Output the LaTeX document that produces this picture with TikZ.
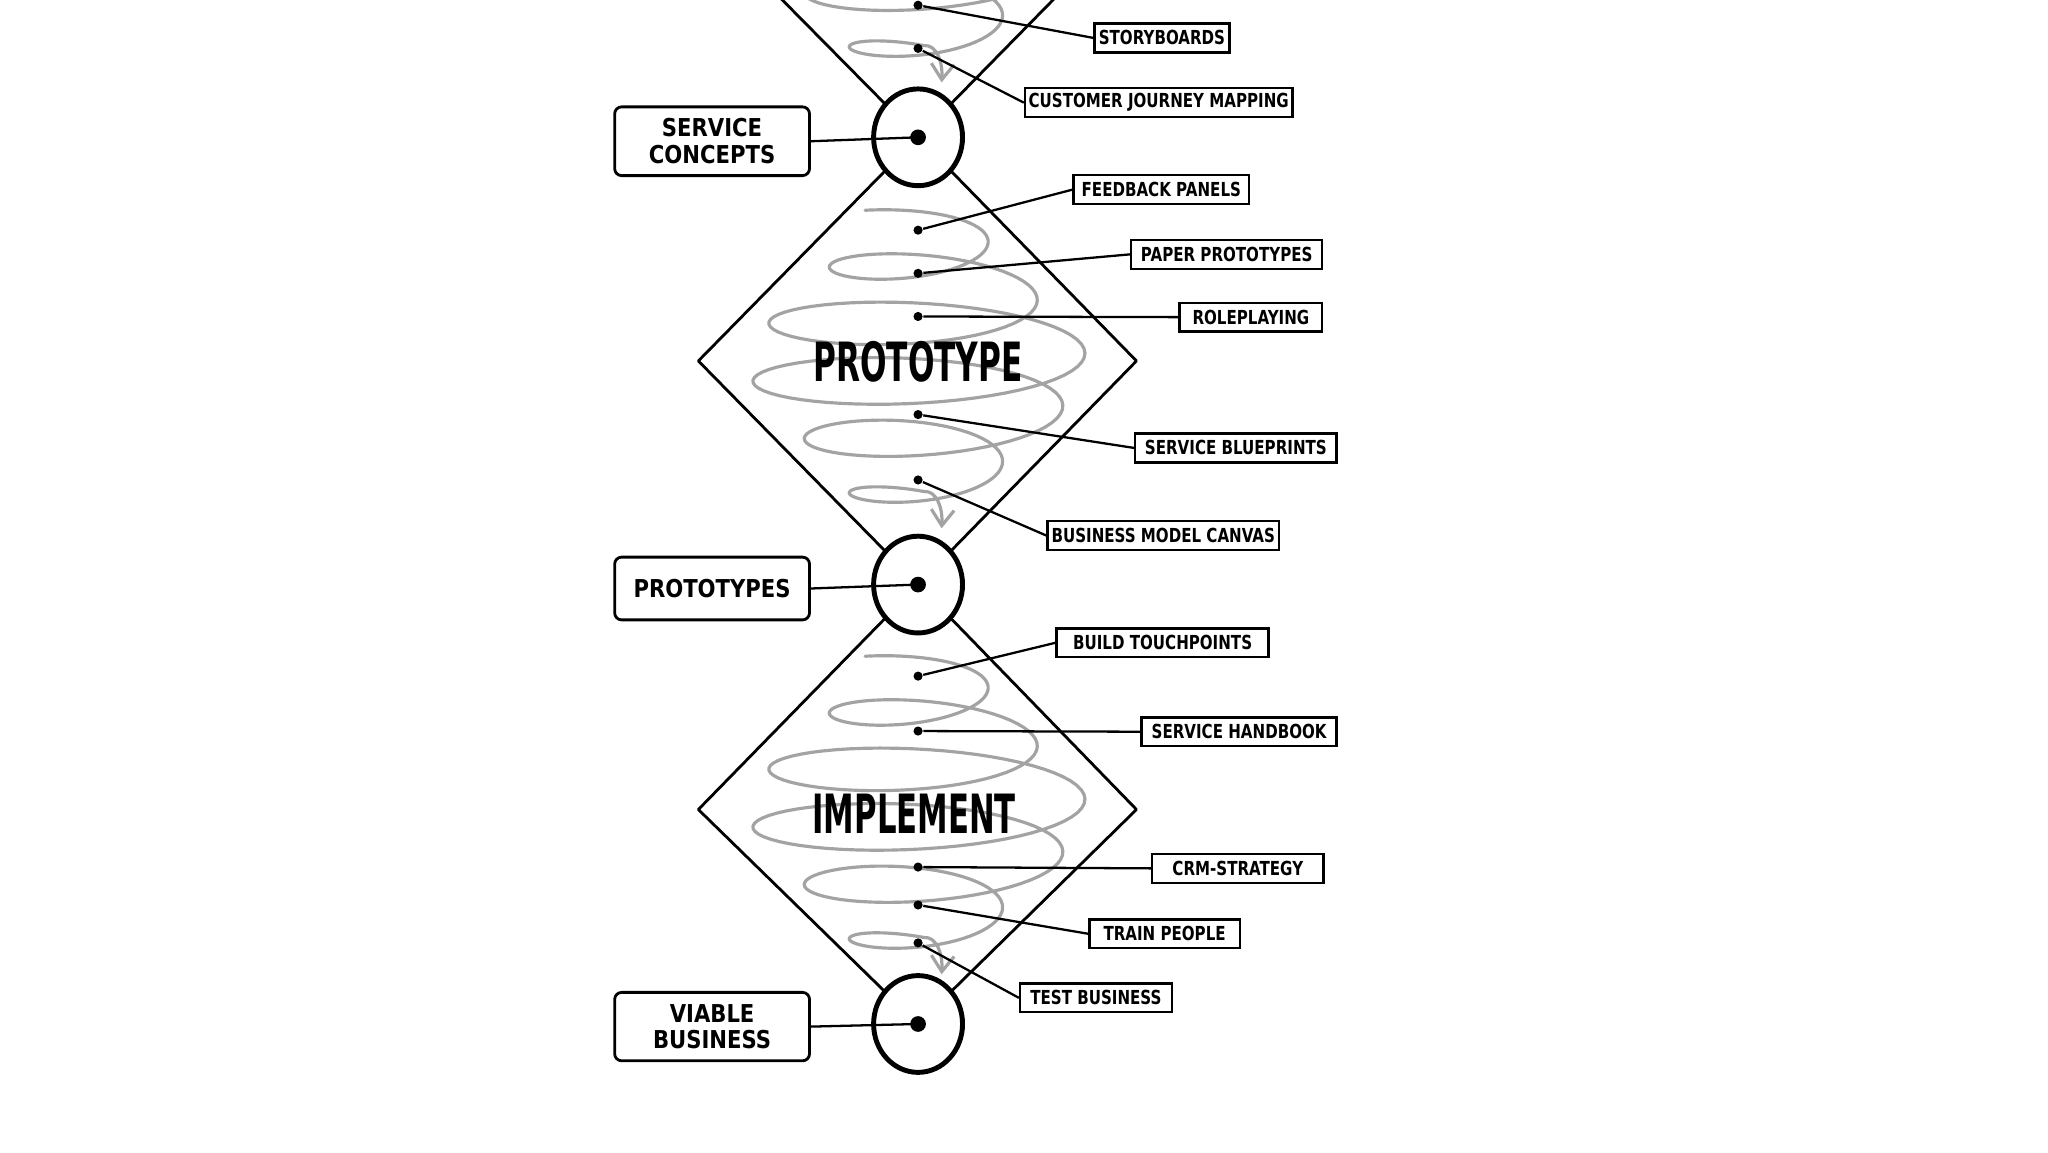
\documentclass[tikz,border=0pt]{standalone}
\usepackage{fontspec}
\usepackage{graphicx}
\newfontfamily\hand{DejaVu Sans}[FakeStretch=0.86]
\newfontfamily\handtag{DejaVu Sans}[FakeStretch=0.78]
\usetikzlibrary{positioning}
\usetikzlibrary{shapes.geometric}
\usetikzlibrary{arrows.meta}
\newcommand\pxu{0.013078cm}
% one gray coil of a phase, #1 = vertical shift
\newcommand\coil[1]{
  \draw[coil] plot[domain=40:1895, samples=320, variable=\ang]
    ({702-(52+77*sin((\ang-100)*0.10286)*sin((\ang-100)*0.10286))*cos(\ang)},
     {#1+162.6+0.1189*\ang-(9+19*sin(\ang*0.09))*sin(\ang)})
    .. controls (716,#1+375) and (721,#1+388) .. (720,#1+404);
}
\tikzset{
  coil/.style={draw=black!36, line width=0.9pt, line cap=round, -{Straight Barb[length=4.5pt,width=6.5pt]}},
  phase/.style={draw, line width=0.8pt, line join=round},
  gate/.style={ellipse, draw, line width=1.4pt, fill=white, minimum width=68*\pxu, minimum height=74*\pxu, inner sep=0pt},
  hub/.style={circle, fill=black, minimum size=12*\pxu, inner sep=0pt},
  pin/.style={circle, fill=black, minimum size=7*\pxu, inner sep=0pt},
  link/.style={line width=0.65pt},
  tool/.style={draw, line width=0.7pt, fill=white, minimum height=22*\pxu, inner sep=1pt, font=\handtag\bfseries\fontsize{5.5}{6}\selectfont},
  result/.style={draw, line width=0.8pt, rounded corners=2pt, minimum width=149*\pxu, minimum height=48*\pxu, align=center, font=\hand\bfseries\fontsize{7}{7.6}\selectfont},
  stage/.style={font=\hand\bfseries\fontsize{15.4}{16}\selectfont},
}
\begin{document}
\begin{tikzpicture}[x=0.013078cm, y=-0.013078cm]
  \useasboundingbox (0,0) rectangle (1566,880.9);
  \clip (0,0) rectangle (1566,880.9);
  \fill[white] (0,0) rectangle (1566,880.9);

  % coils
  \coil{-341}
  \coil{0}
  \coil{341}

  % phase outlines
  \coordinate (g0) at (702,-236);
  \coordinate (g1) at (702,105);
  \coordinate (g2) at (702,447);
  \coordinate (g3) at (702,783);
  \draw[phase] (g0) -- (534,-65) -- (g1) -- (869,-65) -- cycle;
  \draw[phase] (g1) -- (534,276) -- (g2) -- (869,276) -- cycle;
  \draw[phase] (g2) -- (534,619) -- (g3) -- (869,619) -- cycle;

  \node[stage] (prototype) at (702,277) {\scalebox{0.67}[1]{PROTOTYPE}};
  \node[stage] (implement) at (699,622) {\scalebox{0.66}[1]{IMPLEMENT}};

  % milestones
  \node[gate] (m1) at (g1) {};
  \node[gate] (m2) at (g2) {};
  \node[gate] (m3) at (g3) {};
  \node[result] (concepts) at (544.5,108) {SERVICE\\CONCEPTS};
  \node[result] (prototypes) at (544.5,450) {PROTOTYPES};
  \node[result] (viable) at (544.5,785) {VIABLE\\BUSINESS};
  \draw[link] (concepts.east) -- (m1.center);
  \draw[link] (prototypes.east) -- (m2.center);
  \draw[link] (viable.east) -- (m3.center);
  \node[hub] (h1) at (g1) {};
  \node[hub] (h2) at (g2) {};
  \node[hub] (h3) at (g3) {};

  % tools
  \node[tool, minimum width=103*\pxu] (story) at (888.5,29) {STORYBOARDS};
  \node[tool, minimum width=198*\pxu] (journey) at (886,78.5) {CUSTOMER JOURNEY MAPPING};
  \node[tool, minimum width=134*\pxu] (feedback) at (888,145) {FEEDBACK PANELS};
  \node[tool, minimum width=146*\pxu] (paper) at (938,194.5) {PAPER PROTOTYPES};
  \node[tool, minimum width=109*\pxu] (role) at (956.5,242.5) {ROLEPLAYING};
  \node[tool, minimum width=154*\pxu] (blueprint) at (945,342.5) {SERVICE BLUEPRINTS};
  \node[tool, minimum width=177*\pxu] (canvas) at (889.5,409.5) {BUSINESS MODEL CANVAS};
  \node[tool, minimum width=162*\pxu] (touch) at (889,491.5) {BUILD TOUCHPOINTS};
  \node[tool, minimum width=149*\pxu] (handbook) at (947.5,559.5) {SERVICE HANDBOOK};
  \node[tool, minimum width=131*\pxu] (crm) at (946.5,664) {CRM-STRATEGY};
  \node[tool, minimum width=115*\pxu] (train) at (890.5,714) {TRAIN PEOPLE};
  \node[tool, minimum width=116*\pxu] (test) at (838,763) {TEST BUSINESS};

  \node[pin] (p-story) at (702,4) {};
  \node[pin] (p-journey) at (702,37) {};
  \node[pin] (p-feedback) at (702,176) {};
  \node[pin] (p-paper) at (702,209) {};
  \node[pin] (p-role) at (702,242) {};
  \node[pin] (p-blueprint) at (702,317) {};
  \node[pin] (p-canvas) at (702,367) {};
  \node[pin] (p-touch) at (702,517) {};
  \node[pin] (p-handbook) at (702,559) {};
  \node[pin] (p-crm) at (702,663) {};
  \node[pin] (p-train) at (702,692) {};
  \node[pin] (p-test) at (702,721) {};

  \foreach \t in {story,journey,feedback,paper,role,blueprint,canvas,touch,handbook,crm,train,test}
    \draw[link] (p-\t) -- (\t.west);
\end{tikzpicture}
\end{document}
